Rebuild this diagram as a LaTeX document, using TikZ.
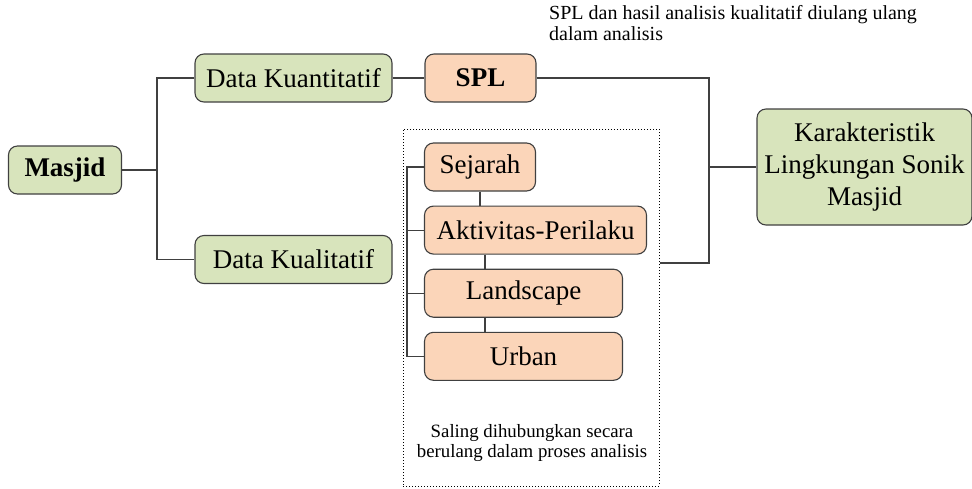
\documentclass[tikz,border=0pt]{standalone}
\usepackage{fontspec}
\setmainfont{Liberation Serif}
\usepackage{tikz}
\usetikzlibrary{positioning,calc}
\definecolor{boxgreen}{RGB}{216, 228, 188}
\definecolor{boxorange}{RGB}{251, 213, 185}
\definecolor{edgegray}{RGB}{64, 64, 64}

\begin{document}
\begin{tikzpicture}[x=1pt, y=-1pt,
    greenbox/.style={rectangle, rounded corners=9pt, draw=edgegray, fill=boxgreen,
                     line width=1.1pt, align=center, inner sep=0pt,
                     minimum height=48pt, font=\fontsize{27}{32}\selectfont},
    orangebox/.style={greenbox, fill=boxorange},
    link/.style={line width=1.2pt, edgegray},
    note/.style={inner sep=0pt, font=\fontsize{20}{21}\selectfont}
]
\useasboundingbox (0,0) rectangle (972,488);
\node[greenbox, minimum width=113pt] (masjid) at (65,170) {\textbf{Masjid}};
\node[greenbox, minimum width=197pt] (kuan) at (293.5,78) {Data Kuantitatif};
\node[greenbox, minimum width=197pt] (kual) at (293.5,259.5) {Data Kualitatif};
\node[orangebox, minimum width=111pt] (spl) at (480.5,78) {\textbf{SPL}};
\node[greenbox, minimum width=215pt, minimum height=116pt] (karakter) at (864.5,167)
    {Karakteristik\\Lingkungan Sonik\\Masjid};
% kelompok kualitatif
\node[draw, dotted, line width=1pt, minimum width=256pt, minimum height=357pt, inner sep=0pt]
    (group) at (531,307.5) {};
\node[orangebox, minimum width=111pt] (sejarah) at (480,167) {Sejarah};
\node[orangebox, minimum width=222pt, below=14pt of sejarah.south west, anchor=north west]
    (aktivitas) {Aktivitas-Perilaku};
\node[orangebox, minimum width=198pt, below=14pt of aktivitas.south west, anchor=north west]
    (landscape) {Landscape};
\node[orangebox, minimum width=198pt, below=14pt of landscape.south west, anchor=north west]
    (urban) {Urban};
\node[note, anchor=north west, align=left] (topnote) at (549,5)
    {SPL dan hasil analisis kualitatif diulang ulang\\dalam analisis};
\node[note, align=center, font=\fontsize{18.8}{19.5}\selectfont] (botnote) at (532,443)
    {Saling dihubungkan secara\\berulang dalam proses analisis};
% garis penghubung
\coordinate (jl) at (157,170);
\coordinate (jr) at (709,167);
\coordinate (bk) at (407,167);
\coordinate (vx) at (485,0);
\draw[link] (masjid.east) -- (jl);
\draw[link] (kuan.west) -| (jl) |- (kual.west);
\draw[link] (kuan.east) -- (spl.west);
\draw[link] (spl.east) -| (jr);
\draw[link] ([yshift=44.5pt]group.east) -| (jr);
\draw[link] (jr) -- (karakter.west);
\draw[link] (sejarah.west) -- (bk) |- (urban.west);
\draw[link] (bk |- aktivitas.west) -- (aktivitas.west);
\draw[link] (bk |- landscape.west) -- (landscape.west);
\draw[link] (sejarah.south) -- (sejarah.south |- aktivitas.north);
\draw[link] (vx |- aktivitas.south) -- (vx |- landscape.north);
\draw[link] (vx |- landscape.south) -- (vx |- urban.north);
\end{tikzpicture}
\end{document}
